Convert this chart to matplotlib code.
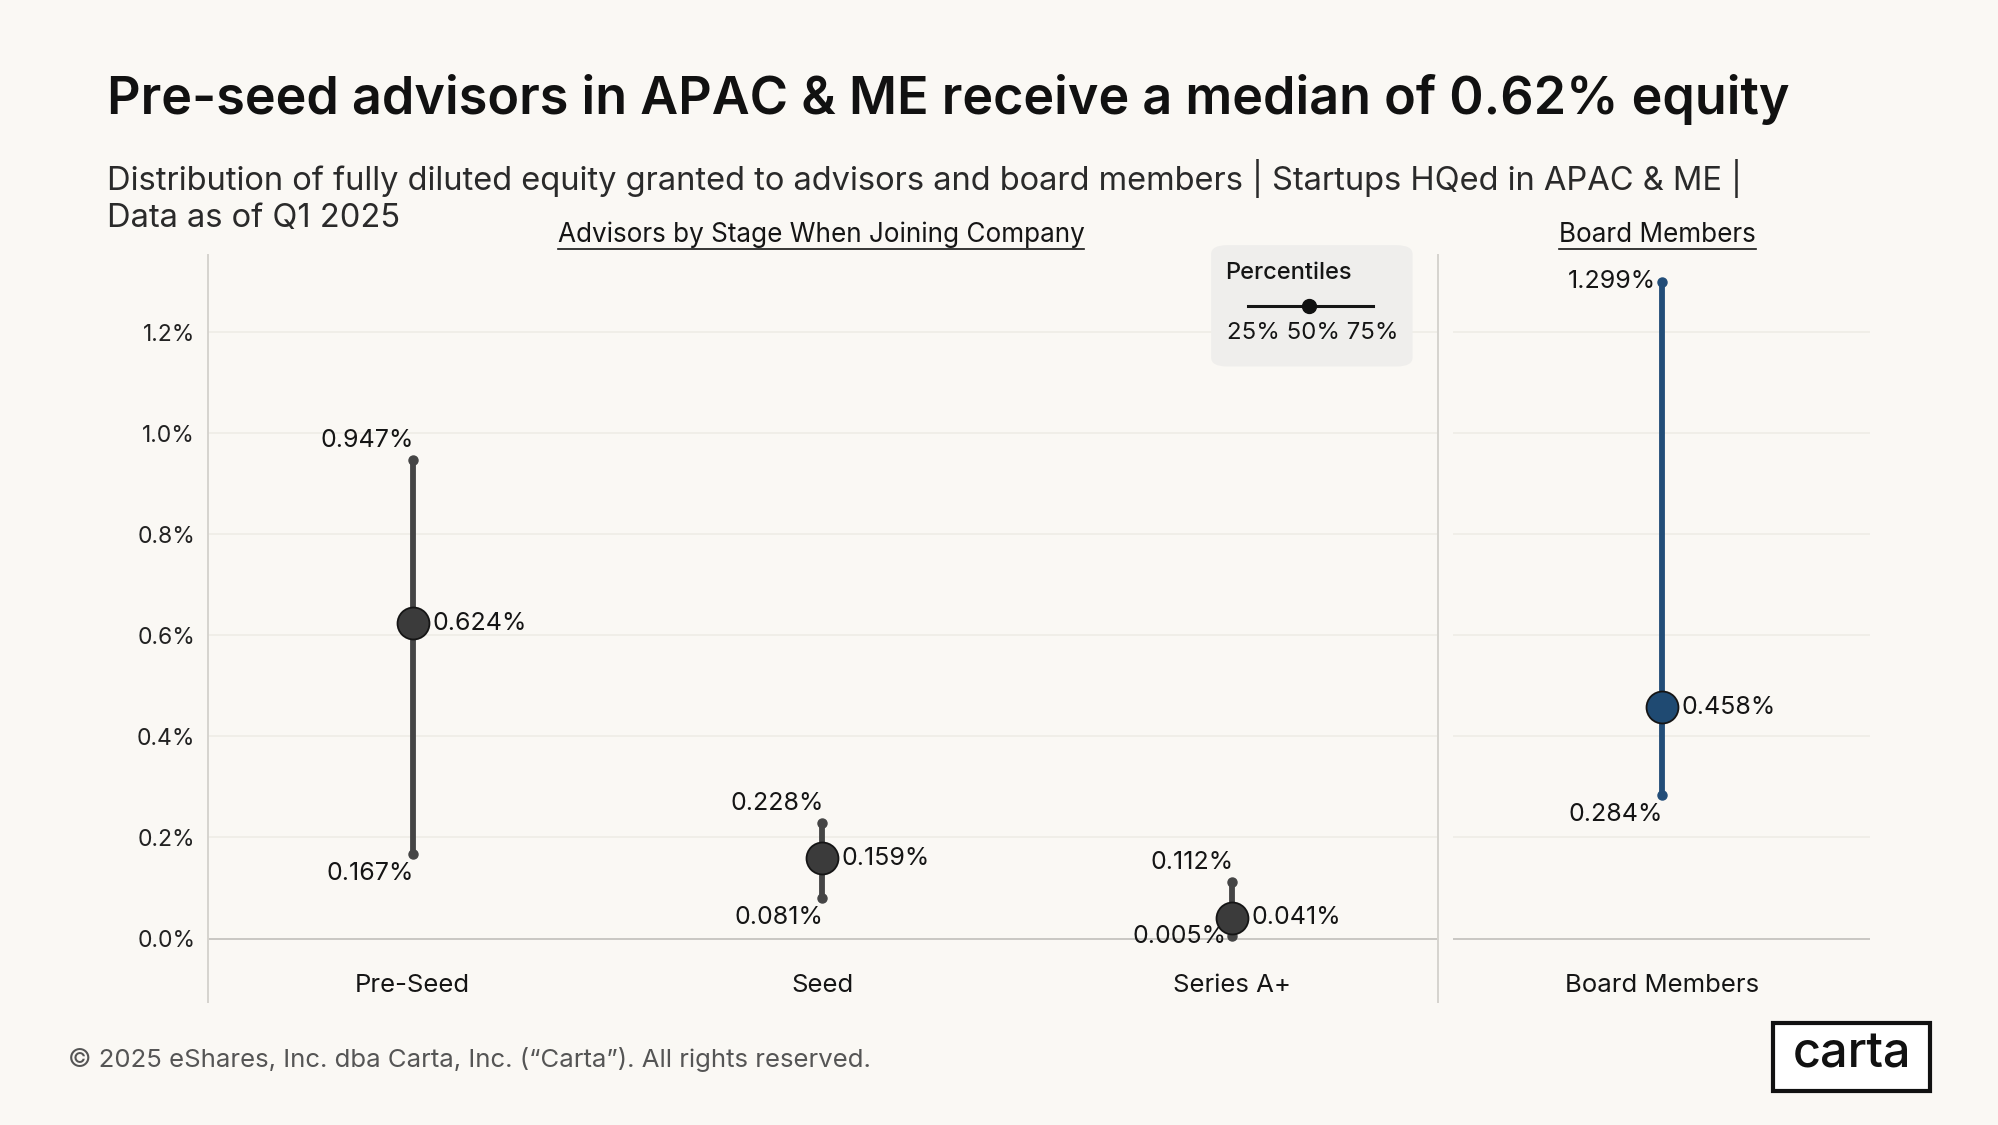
import matplotlib
matplotlib.use("Agg")
import matplotlib.pyplot as plt
from matplotlib.patches import FancyBboxPatch, Rectangle
from matplotlib.lines import Line2D

# ---------------- data ----------------
stages = ["Pre-Seed", "Seed", "Series A+"]
p25 = [0.167, 0.081, 0.005]
p50 = [0.624, 0.159, 0.041]
p75 = [0.947, 0.228, 0.112]

board_label = ["Board Members"]
board_p25 = [0.284]
board_p50 = [0.458]
board_p75 = [1.299]

yticks = [0.0, 0.2, 0.4, 0.6, 0.8, 1.0, 1.2]

# label placement styles ("above", "below", "left")
adv_top_pos = ["above", "above", "above"]
adv_bot_pos = ["below", "below", "left"]
board_top_pos = ["left"]
board_bot_pos = ["below"]

# ---------------- style ----------------
BG = "#faf8f4"
FONT = ["Inter", "DejaVu Sans"]
plt.rcParams["font.family"] = FONT
W, H = 1568, 881  # layout reference units


def fx(x):
    return x / W


def fy(y):
    return 1 - y / H


fig = plt.figure(figsize=(19.99, 11.25), dpi=100, facecolor=BG)

YMIN, YMAX = -0.1263, 1.3516
ax = fig.add_axes([fx(163), fy(785), fx(1127) - fx(163), fy(200) - fy(785)])
axb = fig.add_axes([fx(1140), fy(785), fx(1467) - fx(1140), fy(200) - fy(785)])

for a in (ax, axb):
    a.set_facecolor(BG)
    a.set_ylim(YMIN, YMAX)
    for s in a.spines.values():
        s.set_visible(False)
    a.set_xticks([])
    a.tick_params(axis="y", length=0, pad=9, labelsize=16.5, labelcolor="#222222")
    for t in yticks[1:]:
        a.axhline(t, color="#efece6", lw=1.2, zorder=0)
    a.axhline(0, color="#c9c7c3", lw=1.4, zorder=1)

ax.set_xlim(0, len(stages))
axb.set_xlim(0, 1)
ax.set_yticks(yticks)
ax.set_yticklabels([f"{t:.1f}%" for t in yticks])
axb.set_yticks([])
ax.spines["left"].set_visible(True)
ax.spines["left"].set_color("#d6d3ce")
ax.spines["left"].set_linewidth(1.4)

# separator line between panels
fig.add_artist(Line2D([fx(1128), fx(1128)], [fy(200), fy(785)], color="#d6d3ce", lw=1.4))

LBL = 18


def draw_range(a, x, lo, med, hi, color, medcolor, top_pos, bot_pos):
    a.plot([x, x], [lo, hi], color=color, lw=4.2, solid_capstyle="butt", zorder=3)
    a.plot([x, x], [lo, hi], "o", color=color, ms=6.5, zorder=4)
    a.plot([x], [med], "o", color=medcolor, mec="#151515", mew=1.3, ms=23, zorder=5)
    a.annotate(f"{med:.3f}%", (x, med), xytext=(14, 0), textcoords="offset points",
               ha="left", va="center", fontsize=LBL, color="#151515")
    for val, pos in ((hi, top_pos), (lo, bot_pos)):
        if pos == "above":
            kw = dict(xytext=(1, 6), ha="right", va="bottom")
        elif pos == "below":
            kw = dict(xytext=(1, -6), ha="right", va="top")
        else:
            kw = dict(xytext=(-4, 0), ha="right", va="center")
        a.annotate(f"{val:.3f}%", (x, val), textcoords="offset points",
                   fontsize=LBL, color="#151515", **kw)


for i, s in enumerate(stages):
    xc = i + 0.5
    draw_range(ax, xc, p25[i], p50[i], p75[i], "#454545", "#3b3b3b",
               adv_top_pos[i], adv_bot_pos[i])
    ax.text(xc, -0.093, s, ha="center", va="center", fontsize=18.5, color="#151515")

for i, s in enumerate(board_label):
    draw_range(axb, 0.5, board_p25[i], board_p50[i], board_p75[i], "#224d78", "#1f4a72",
               board_top_pos[i], board_bot_pos[i])
    axb.text(0.5, -0.093, s, ha="center", va="center", fontsize=18.5, color="#151515")

# ---------------- titles ----------------
fig.text(fx(84), fy(78), "Pre-seed advisors in APAC & ME receive a median of 0.62% equity",
         fontsize=37.5, fontweight="semibold", color="#111111", va="center", ha="left")
fig.text(fx(84), fy(140), "Distribution of fully diluted equity granted to advisors and board members | Startups HQed in APAC & ME |",
         fontsize=23.5, color="#2a2a2a", va="center", ha="left")
fig.text(fx(84), fy(171), "Data as of Q1 2025",
         fontsize=23.5, color="#2a2a2a", va="center", ha="left")

hdr1 = fig.text(fx(644), fy(184), "Advisors by Stage When Joining Company",
                fontsize=18.8, color="#151515", ha="center", va="center")
hdr2 = fig.text(fx(1300), fy(184), "Board Members",
                fontsize=18.8, color="#151515", ha="center", va="center")

# ---------------- legend box ----------------
box = FancyBboxPatch((fx(950), fy(287)), fx(1108) - fx(950), fy(192) - fy(287),
                     boxstyle="round,pad=0,rounding_size=0.008",
                     transform=fig.transFigure, facecolor="#efeeec", edgecolor="none", zorder=5)
fig.add_artist(box)
fig.text(fx(961), fy(214), "Percentiles", fontsize=17, fontweight="medium", color="#151515",
         ha="left", va="center", zorder=6)
fig.add_artist(Line2D([fx(979), fx(1077)], [fy(240), fy(240)], color="#151515", lw=2.2, zorder=6))
fig.add_artist(Line2D([fx(1027)], [fy(240)], marker="o", ms=10, color="#111111", zorder=7))
fig.text(fx(1029.5), fy(261), "25% 50% 75%", fontsize=17.3, color="#151515",
         ha="center", va="center", zorder=6)

# ---------------- footer ----------------
fig.text(fx(53), fy(830), "\u00a9 2025 eShares, Inc. dba Carta, Inc. (\u201cCarta\u201d). All rights reserved.",
         fontsize=18.5, color="#555555", ha="left", va="center")
fig.add_artist(Rectangle((fx(1391), fy(854)), fx(1514) - fx(1391), fy(801) - fy(854),
                         transform=fig.transFigure, facecolor="white", edgecolor="#111111", lw=3))
fig.text(fx(1452.5), fy(826), "carta", fontsize=35, fontweight="medium", color="#111111",
         ha="center", va="center")

# underline headers
fig.canvas.draw()
r = fig.canvas.get_renderer()
for h in (hdr1, hdr2):
    bb = h.get_window_extent(r)
    fw, fh = fig.bbox.width, fig.bbox.height
    yline = (bb.y0 - 1) / fh
    fig.add_artist(Line2D([bb.x0 / fw, bb.x1 / fw], [yline, yline], color="#151515", lw=1.2))

fig.savefig("out.png", dpi=100, facecolor=BG)
